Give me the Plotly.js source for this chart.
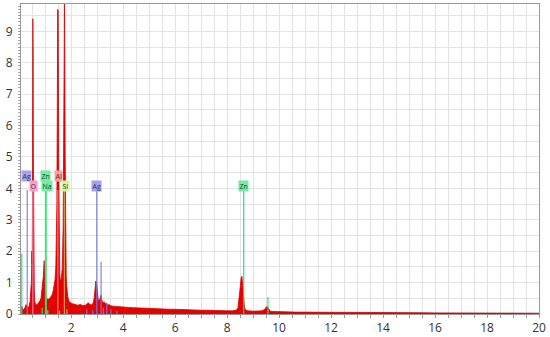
<!DOCTYPE html>
<html>
<head>
<meta charset="utf-8">
<script src="https://cdn.plot.ly/plotly-3.0.1.min.js"></script>
<style>
  html, body { margin: 0; padding: 0; background: #fff; }
  #plot { width: 550px; height: 337px; }
</style>
</head>
<body>
<div id="plot"></div>
<script>
// Spectrum (energy in keV, counts scaled as on the axis)
const energy = [
  0.07, 0.10, 0.14, 0.18, 0.22, 0.26, 0.30, 0.34, 0.38, 0.42,
  0.45, 0.47, 0.49, 0.50, 0.51, 0.52, 0.525, 0.535, 0.545, 0.56,
  0.58, 0.60, 0.64, 0.68, 0.72, 0.76, 0.80, 0.84, 0.87, 0.90,
  0.93, 0.96, 0.98, 1.00, 1.02, 1.04, 1.07, 1.10, 1.14, 1.18,
  1.22, 1.26, 1.30, 1.34, 1.38, 1.41, 1.43, 1.45, 1.47, 1.48,
  1.49, 1.50, 1.52, 1.54, 1.56, 1.58, 1.60, 1.63, 1.66, 1.69,
  1.71, 1.73, 1.74, 1.75, 1.77, 1.79, 1.81, 1.84, 1.87, 1.92,
  1.97, 2.05, 2.15, 2.25, 2.35, 2.45, 2.55, 2.62, 2.66, 2.72,
  2.78, 2.84, 2.88, 2.92, 2.95, 2.98, 3.01, 3.04, 3.08, 3.12,
  3.15, 3.18, 3.22, 3.27, 3.32, 3.36, 3.40, 3.46, 3.52, 3.60,
  3.70, 3.80, 3.90, 4.00, 4.20, 4.40, 4.60, 4.80, 5.00, 5.20,
  5.40, 5.60, 5.80, 6.00, 6.20, 6.40, 6.60, 6.80, 7.00, 7.20,
  7.40, 7.60, 7.80, 8.00, 8.20, 8.35, 8.42, 8.47, 8.51, 8.54,
  8.57, 8.60, 8.63, 8.67, 8.72, 8.80, 9.00, 9.20, 9.35, 9.45,
  9.50, 9.55, 9.60, 9.66, 9.75, 9.90, 10.2, 10.6, 11.0, 11.5,
  12.0, 12.5, 13.0, 13.5, 14.0, 14.5, 15.0, 15.5, 16.0, 16.5,
  17.0, 17.5, 18.0, 18.5, 19.0, 19.5, 20.0
];
const counts = [
  0.05, 0.25, 0.12, 0.15, 0.20, 0.30, 0.22, 0.20, 0.25, 0.40,
  0.80, 1.00, 2.00, 1.60, 3.00, 6.00, 9.40, 8.50, 5.00, 2.00,
  0.80, 0.40, 0.28, 0.30, 0.32, 0.38, 0.42, 0.50, 0.70, 0.90,
  1.20, 1.70, 1.40, 1.00, 0.70, 0.55, 0.50, 0.45, 0.48, 0.50,
  0.55, 0.60, 0.70, 0.85, 1.10, 1.50, 2.30, 3.50, 7.00, 9.70,
  9.20, 9.65, 5.00, 2.00, 1.30, 1.10, 1.00, 1.20, 1.50, 2.80,
  4.50, 8.00, 9.95, 9.30, 5.00, 2.20, 1.20, 0.80, 0.55, 0.40,
  0.36, 0.33, 0.30, 0.28, 0.30, 0.27, 0.28, 0.32, 0.36, 0.30,
  0.29, 0.34, 0.48, 0.80, 1.05, 0.95, 0.70, 0.45, 0.42, 0.55,
  0.60, 0.45, 0.36, 0.38, 0.32, 0.35, 0.28, 0.30, 0.26, 0.25,
  0.24, 0.23, 0.24, 0.22, 0.21, 0.20, 0.19, 0.19, 0.18, 0.17,
  0.17, 0.16, 0.15, 0.15, 0.14, 0.14, 0.13, 0.13, 0.12, 0.12,
  0.11, 0.11, 0.10, 0.10, 0.10, 0.12, 0.20, 0.50, 0.90, 1.15,
  1.20, 0.90, 0.50, 0.20, 0.12, 0.10, 0.09, 0.09, 0.10, 0.15,
  0.22, 0.23, 0.15, 0.09, 0.08, 0.07, 0.07, 0.06, 0.06, 0.05,
  0.05, 0.05, 0.05, 0.04, 0.05, 0.04, 0.04, 0.04, 0.035, 0.035,
  0.03, 0.03, 0.03, 0.03, 0.025, 0.025, 0.025
];

// Element marker lines (energy, height)
const agLines = [0.31, 2.60, 2.83, 2.984, 3.151, 3.24, 3.37, 3.53, 3.76];
const agHeights = [3.95, 0.15, 0.12, 3.95, 1.66, 0.2, 0.35, 0.15, 0.1];
const oLines = [0.525];
const oHeights = [3.95];
const znLines = [0.10, 0.884, 1.012, 8.638, 9.572];
const znHeights = [1.92, 0.2, 3.95, 3.95, 0.54];
const naLines = [1.041, 1.10];
const naHeights = [3.95, 0.12];
const alLines = [1.487, 1.557];
const alHeights = [3.95, 0.1];
const siLines = [1.740, 1.836];
const siHeights = [3.95, 0.15];

// Element labels
const labelText = ['Ag', 'O', 'Zn', 'Na', 'Al', 'Si', 'Ag', 'Zn'];
const labelEnergy = [0.29, 0.54, 1.03, 1.08, 1.50, 1.78, 2.99, 8.63];
const labelUpper = [true, false, true, false, true, false, false, false];

// Axis ticks
const xTickLabels = [2, 4, 6, 8, 10, 12, 14, 16, 18, 20];
const yTickLabels = [0, 1, 2, 3, 4, 5, 6, 7, 8, 9];

const colors = {
  Ag: 'rgba(120,120,225,0.85)',
  O: 'rgba(255,140,190,0.8)',
  Zn: 'rgba(40,225,110,0.9)',
  Na: 'rgba(60,235,120,0.9)',
  Al: 'rgba(255,140,140,0.8)',
  Si: 'rgba(205,240,130,0.6)'
};
const labelBg = {
  Ag: '#a3a3f0', O: '#ff9ccc', Zn: '#6ff0a0', Na: '#6ff0a0', Al: '#ff9c9c', Si: '#d2f5a0'
};

function segments(xs, hs) {
  const x = [], y = [];
  xs.forEach((e, i) => { x.push(e, e, null); y.push(0, hs[i], null); });
  return {x, y};
}

const spectrum = {
  x: energy,
  y: counts,
  mode: 'lines',
  fill: 'tozeroy',
  fillcolor: '#e60000',
  line: {color: '#d40000', width: 0.8},
  hoverinfo: 'skip'
};

const markerSets = [
  ['Ag', agLines, agHeights], ['O', oLines, oHeights], ['Zn', znLines, znHeights],
  ['Na', naLines, naHeights], ['Al', alLines, alHeights], ['Si', siLines, siHeights]
];
const markerTraces = markerSets.map(([el, xs, hs]) => {
  const s = segments(xs, hs);
  return {x: s.x, y: s.y, mode: 'lines', line: {color: colors[el], width: 1.3}, hoverinfo: 'skip'};
});

const annotations = labelText.map((t, i) => ({
  x: labelEnergy[i],
  y: labelUpper[i] ? 4.4 : 4.08,
  xref: 'x', yref: 'y',
  text: t,
  showarrow: false,
  font: {family: 'Open Sans', size: 7, color: '#333'},
  bgcolor: labelBg[t],
  borderpad: 0.5,
  xanchor: 'center', yanchor: 'middle'
}));

// grid every 0.5, labels only on the listed ticks
const xGrid = [];
for (let v = 0.5; v <= 20; v += 0.5) xGrid.push(v);
const yGrid = [];
for (let v = 0; v <= 9.5; v += 0.5) yGrid.push(v);

const layout = {
  width: 550, height: 337,
  margin: {l: 21, r: 11, t: 4, b: 23},
  paper_bgcolor: '#fff', plot_bgcolor: '#fff',
  showlegend: false,
  font: {family: 'Open Sans', size: 12, color: '#333'},
  xaxis: {
    range: [0.07, 20],
    tickmode: 'array',
    tickvals: xGrid,
    ticktext: xGrid.map(v => xTickLabels.includes(v) ? String(v) : ''),
    showgrid: true, gridcolor: '#e3e3e3', gridwidth: 1,
    ticks: 'outside', ticklen: 3, tickcolor: '#999',
    showline: true, linecolor: '#999', linewidth: 1, mirror: true,
    zeroline: false
  },
  yaxis: {
    range: [0, 9.87],
    tickmode: 'array',
    tickvals: yGrid,
    ticktext: yGrid.map(v => yTickLabels.includes(v) ? String(v) : ''),
    showgrid: true, gridcolor: '#e3e3e3', gridwidth: 1,
    ticks: 'outside', ticklen: 2, tickcolor: '#999',
    minor: {dtick: 0.1, ticks: 'outside', ticklen: 2, tickcolor: '#aaa', showgrid: false},
    ticklabelstandoff: 3,
    showline: true, linecolor: '#999', linewidth: 1, mirror: true,
    zeroline: false
  },
  annotations: annotations
};

Plotly.newPlot('plot', [spectrum, ...markerTraces], layout, {displayModeBar: false, staticPlot: true});
</script>
</body>
</html>
